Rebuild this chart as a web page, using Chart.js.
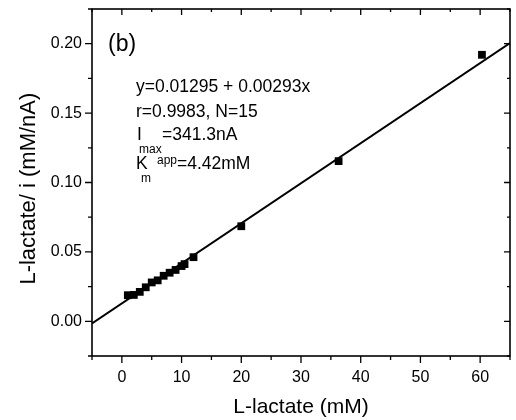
<!DOCTYPE html>
<html>
<head>
<meta charset="utf-8">
<script src="https://cdn.jsdelivr.net/npm/chart.js@4/dist/chart.umd.min.js"></script>
<style>
  html, body { margin: 0; padding: 0; background: #fff; }
  #wrap { width: 516px; height: 420px; }
</style>
</head>
<body>
<div id="wrap"><canvas id="chart" width="516" height="420"></canvas></div>
<script>
// values
const lactate = [1, 2, 3, 4, 5, 6, 7, 8, 9, 10, 10.5, 12, 20, 36.3, 60.3];
const ratio = [0.0188, 0.0190, 0.0212, 0.0245, 0.0280, 0.0295, 0.0328, 0.0350, 0.0370, 0.0398, 0.0412, 0.0462, 0.0685, 0.1154, 0.1920];
const fitX = [-5, 65];
const fitY = [-0.0015, 0.2005];
const xTicks = [0, 10, 20, 30, 40, 50, 60];
const yTicks = [0, 0.05, 0.10, 0.15, 0.20];
const xMinor = [-5, 5, 15, 25, 35, 45, 55, 65];
const yMinor = [-0.025, 0.025, 0.075, 0.125, 0.175, 0.225];

const FONT = '"Liberation Sans", Arial, sans-serif';

// frame, tick marks and the fit annotation
const framePlugin = {
    id: 'framePlugin',
    afterDraw(chart) {
        const { ctx, chartArea: { left, right, top, bottom }, scales: { x, y } } = chart;
        ctx.save();
        ctx.strokeStyle = '#000';
        ctx.lineWidth = 1.6;
        ctx.strokeRect(left, top, right - left, bottom - top);

        ctx.lineWidth = 1.3;
        ctx.beginPath();
        const tickX = (vals, len) => vals.forEach(v => {
            const px = x.getPixelForValue(v);
            ctx.moveTo(px, bottom); ctx.lineTo(px, bottom + len);
            ctx.moveTo(px, top); ctx.lineTo(px, top + len - 1);
        });
        const tickY = (vals, len) => vals.forEach(v => {
            const py = y.getPixelForValue(v);
            ctx.moveTo(left, py); ctx.lineTo(left - len, py);
            ctx.moveTo(right, py); ctx.lineTo(right - len + 1, py);
        });
        tickX(xTicks, 7);
        tickX(xMinor, 4);
        tickY(yTicks, 7);
        tickY(yMinor, 4);
        ctx.stroke();

        ctx.fillStyle = '#000';
        ctx.textBaseline = 'alphabetic';
        ctx.textAlign = 'left';
        ctx.font = '23px ' + FONT;
        ctx.fillText('(b)', 108, 51);

        ctx.font = '17.5px ' + FONT;
        ctx.fillText('y=0.01295 + 0.00293x', 136, 92);
        ctx.fillText('r=0.9983, N=15', 136, 117);
        ctx.fillText('I', 137, 140);
        ctx.fillText('=341.3nA', 162, 140);
        ctx.fillText('K', 136, 169);
        ctx.fillText('=4.42mM', 177, 169);
        ctx.font = '12px ' + FONT;
        ctx.fillText('max', 139, 153);
        ctx.fillText('m', 141, 182);
        ctx.fillText('app', 157, 164);
        ctx.restore();
    }
};

const ctx = document.getElementById('chart').getContext('2d');

new Chart(ctx, {
    type: 'scatter',
    data: {
        datasets: [
            {
                label: 'data',
                data: lactate.map((v, i) => ({ x: v, y: ratio[i] })),
                pointStyle: 'rect',
                pointRadius: 5.5,
                backgroundColor: '#000',
                borderColor: '#000',
                borderWidth: 0,
                order: 1
            },
            {
                type: 'line',
                label: 'fit',
                data: fitX.map((v, i) => ({ x: v, y: fitY[i] })),
                borderColor: '#000',
                borderWidth: 2,
                pointRadius: 0,
                fill: false,
                order: 2
            }
        ]
    },
    options: {
        responsive: false,
        devicePixelRatio: 1,
        animation: false,
        layout: { padding: { top: 9, right: 6, left: 0, bottom: 0 } },
        plugins: {
            legend: { display: false },
            tooltip: { enabled: false }
        },
        scales: {
            x: {
                type: 'linear',
                min: -5,
                max: 65,
                grid: { display: false, drawTicks: false },
                border: { display: false },
                afterBuildTicks: scale => { scale.ticks = xTicks.map(v => ({ value: v })); },
                afterFit: scale => {
                    scale.height = 64;
                    scale.paddingLeft = 0;
                    scale.paddingRight = 0;
                },
                ticks: {
                    color: '#000',
                    padding: 12,
                    maxRotation: 0,
                    font: { family: FONT, size: 16 }
                },
                title: {
                    display: true,
                    text: 'L-lactate (mM)',
                    color: '#000',
                    font: { family: FONT, size: 21 },
                    padding: { top: 0, bottom: 0 }
                }
            },
            y: {
                type: 'linear',
                min: -0.025,
                max: 0.225,
                grid: { display: false, drawTicks: false },
                border: { display: false },
                afterBuildTicks: scale => { scale.ticks = yTicks.map(v => ({ value: v })); },
                afterFit: scale => {
                    scale.width = 92;
                    scale.paddingTop = 0;
                    scale.paddingBottom = 0;
                },
                ticks: {
                    color: '#000',
                    padding: 10,
                    font: { family: FONT, size: 16 },
                    callback: v => v.toFixed(2)
                },
                title: {
                    display: true,
                    text: 'L-lactate/ i (mM/nA)  ',
                    color: '#000',
                    font: { family: FONT, size: 22 },
                    padding: { top: 16, bottom: 0 }
                }
            }
        }
    },
    plugins: [framePlugin]
});
</script>
</body>
</html>
